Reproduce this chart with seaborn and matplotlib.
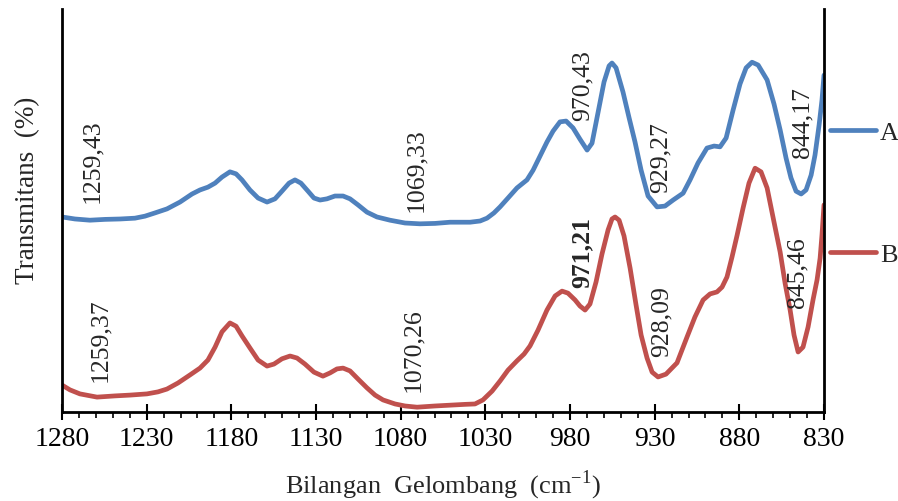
import numpy as np
import pandas as pd
import seaborn as sns
import matplotlib.pyplot as plt
from matplotlib.ticker import FixedLocator, MultipleLocator

# spectrum A (blue), wavenumber in cm-1 and transmittance (arbitrary %)
wave_a = [1280, 1272.3, 1263.5, 1254.6, 1245.7, 1236.9, 1231.0, 1225.1, 1218.0, 1210.3,
          1203.2, 1198.5, 1193.8, 1189.6, 1185.5, 1180.8, 1177.2, 1173.7, 1169.0, 1164.2,
          1158.9, 1154.2, 1150.1, 1145.9, 1142.4, 1138.9, 1134.7, 1131.2, 1127.6, 1123.5,
          1118.8, 1114.0, 1109.9, 1105.2, 1099.9, 1094.0, 1086.3, 1077.4, 1068.6, 1059.7,
          1050.8, 1039.0, 1033.1, 1029.0, 1024.9, 1021.3, 1016.6, 1011.3, 1005.4, 1001.8,
          997.7, 993.6, 990.0, 985.9, 982.3, 978.2, 974.1, 969.9, 967.0, 963.4,
          959.9, 956.9, 955.2, 952.8, 948.7, 945.1, 941.6, 938.0, 933.9, 928.6,
          923.9, 919.1, 913.2, 909.1, 904.4, 899.1, 894.9, 891.4, 887.8, 883.7,
          879.6, 876.0, 872.5, 868.9, 863.6, 859.5, 855.9, 852.4, 849.5, 846.5,
          843.5, 840.6, 837.6, 835.3, 832.9, 831.2, 830.0]
trans_a = [48.4, 47.9, 47.6, 47.8, 47.9, 48.1, 48.6, 49.4, 50.4, 52.1,
           54.1, 55.1, 55.8, 56.8, 58.3, 59.6, 59.1, 57.6, 55.1, 53.1,
           52.1, 52.9, 54.8, 56.8, 57.6, 56.8, 54.8, 53.1, 52.6, 52.9,
           53.6, 53.6, 52.9, 51.4, 49.6, 48.4, 47.6, 46.9, 46.7, 46.8,
           47.1, 47.1, 47.4, 48.1, 49.4, 50.9, 53.1, 55.6, 57.6, 60.0,
           63.5, 67.0, 69.7, 72.0, 72.2, 70.5, 67.7, 65.0, 66.7, 74.4,
           81.9, 85.9, 86.6, 85.4, 79.4, 73.0, 67.0, 60.0, 53.6, 50.9,
           51.1, 52.6, 54.3, 57.6, 61.8, 65.5, 66.0, 65.8, 68.0, 74.9,
           81.4, 85.4, 86.8, 86.1, 82.4, 76.4, 70.0, 63.0, 58.1, 54.8,
           54.1, 55.1, 58.8, 63.8, 71.2, 77.4, 83.6]

# spectrum B (red)
wave_b = [1280, 1275.3, 1269.4, 1259.3, 1248.7, 1239.8, 1229.8, 1223.3, 1218.0, 1211.5,
          1204.4, 1198.5, 1193.8, 1189.6, 1185.5, 1180.8, 1177.2, 1173.7, 1169.0, 1164.2,
          1158.9, 1154.8, 1150.1, 1145.3, 1141.2, 1136.5, 1131.2, 1125.9, 1121.7, 1117.6,
          1114.0, 1109.9, 1105.2, 1099.9, 1095.1, 1090.4, 1083.3, 1077.4, 1070.3, 1059.7,
          1050.8, 1042.0, 1036.1, 1031.4, 1026.0, 1021.3, 1016.6, 1011.3, 1007.1, 1003.6,
          998.9, 993.6, 988.8, 984.7, 981.2, 977.0, 974.1, 971.1, 968.2, 964.6,
          961.1, 957.5, 955.2, 953.4, 951.0, 948.1, 944.5, 941.0, 938.0, 934.5,
          931.5, 928.0, 923.3, 916.8, 910.9, 906.2, 901.4, 897.3, 893.2, 890.2,
          887.3, 884.3, 881.3, 877.8, 874.3, 870.7, 867.2, 863.6, 859.5, 855.9,
          853.0, 850.0, 847.7, 845.3, 842.4, 839.4, 836.5, 834.1, 832.3, 831.2,
          830.0]
trans_b = [6.7, 5.5, 4.5, 3.7, 4.0, 4.2, 4.5, 5.0, 5.7, 7.2,
           9.2, 10.9, 12.9, 16.1, 19.9, 22.1, 21.3, 18.9, 15.9, 12.9,
           11.4, 11.9, 13.2, 13.9, 13.4, 11.9, 9.9, 8.9, 9.7, 10.7,
           10.9, 10.2, 8.2, 6.0, 4.2, 3.0, 2.0, 1.5, 1.2, 1.5,
           1.7, 1.9, 2.0, 3.0, 5.2, 7.7, 10.4, 12.7, 14.4, 16.4,
           20.3, 25.3, 28.8, 30.0, 29.5, 27.8, 26.3, 25.3, 26.8, 32.3,
           39.2, 45.2, 47.9, 48.4, 47.6, 43.7, 35.7, 26.6, 19.1, 13.4,
           9.9, 8.7, 9.4, 12.2, 18.6, 23.6, 27.8, 29.3, 29.8, 31.0,
           33.5, 38.5, 43.9, 50.6, 56.8, 60.5, 59.6, 55.6, 47.1, 39.7,
           32.0, 25.3, 19.1, 14.9, 16.1, 21.1, 27.8, 32.8, 38.2, 43.9,
           51.4]

# x axis ticks as printed in the reference
tick_values = [1280, 1230, 1180, 1130, 1080, 1030, 980, 930, 880, 830]

# peak labels: text, wavenumber, transmittance at label base, bold
peak_text = ["1259,43", "1069,33", "970,43", "929,27", "844,17",
             "1259,37", "1070,26", "971,21", "928,09", "845,46"]
peak_x = [1262.3, 1070.9, 972.3, 926.8, 843.0,
          1257.6, 1072.7, 972.9, 926.2, 845.9]
peak_y = [51.9, 49.6, 72.2, 54.3, 63.0,
          7.4, 5.0, 30.8, 13.6, 25.8]
peak_bold = [False, False, False, False, False,
             False, False, True, False, False]

df = pd.concat([
    pd.DataFrame({"wave": wave_a, "trans": trans_a, "sample": "A"}),
    pd.DataFrame({"wave": wave_b, "trans": trans_b, "sample": "B"}),
])

sns.set_style("white")
plt.rcParams["font.family"] = ["Liberation Serif", "DejaVu Serif"]
plt.rcParams["mathtext.fontset"] = "custom"
plt.rcParams["mathtext.rm"] = "Liberation Serif"

fig = plt.figure(figsize=(8.98, 5.01), dpi=100)
ax = fig.add_axes([0.069, 0.1776, 0.8486, 0.8044])

sns.lineplot(data=df, x="wave", y="trans", hue="sample", palette=["#4F81BD", "#C0504D"],
             estimator=None, sort=False, linewidth=3.4, legend=False, ax=ax)
for ln in ax.get_lines():
    ln.set_solid_joinstyle("round")
    ln.set_solid_capstyle("round")

for t, x, y, b in zip(peak_text, peak_x, peak_y, peak_bold):
    ax.text(x, y, t, rotation=90, ha="center", va="bottom", fontsize=18.5,
            fontweight="bold" if b else "normal")

ax.set_xlim(1280, 830)
ax.set_ylim(0, 100)
ax.xaxis.set_major_locator(FixedLocator(tick_values))
ax.xaxis.set_minor_locator(MultipleLocator(10))
ax.set_yticks([])
ax.tick_params(axis="x", which="major", direction="inout", length=11, width=1.5,
               colors="black", labelsize=20, pad=5, bottom=True)
ax.tick_params(axis="x", which="minor", direction="out", length=4.5, width=1.2,
               colors="black", bottom=True)

for side in ["left", "right", "bottom"]:
    ax.spines[side].set_color("black")
    ax.spines[side].set_linewidth(2)
ax.spines["top"].set_visible(False)

ax.set_xlabel("Bilangan  Gelombang  (cm$^{-1}$)", fontsize=19)
ax.set_ylabel("Transmitans  (%)", fontsize=19.5)
ax.xaxis.set_label_coords(0.5, -0.14)
ax.yaxis.set_label_coords(-0.028, 0.55)

lines = ax.get_lines()
fig.legend([lines[0]], ["A"], loc="center left", bbox_to_anchor=(830 / 898, 1 - 133 / 501),
           frameon=False, fontsize=19, handlelength=1.75, handletextpad=0.15,
           borderpad=0, borderaxespad=0)
fig.legend([lines[1]], ["B"], loc="center left", bbox_to_anchor=(830 / 898, 1 - 255 / 501),
           frameon=False, fontsize=19, handlelength=1.75, handletextpad=0.15,
           borderpad=0, borderaxespad=0)

fig.savefig("out.png", dpi=100)
